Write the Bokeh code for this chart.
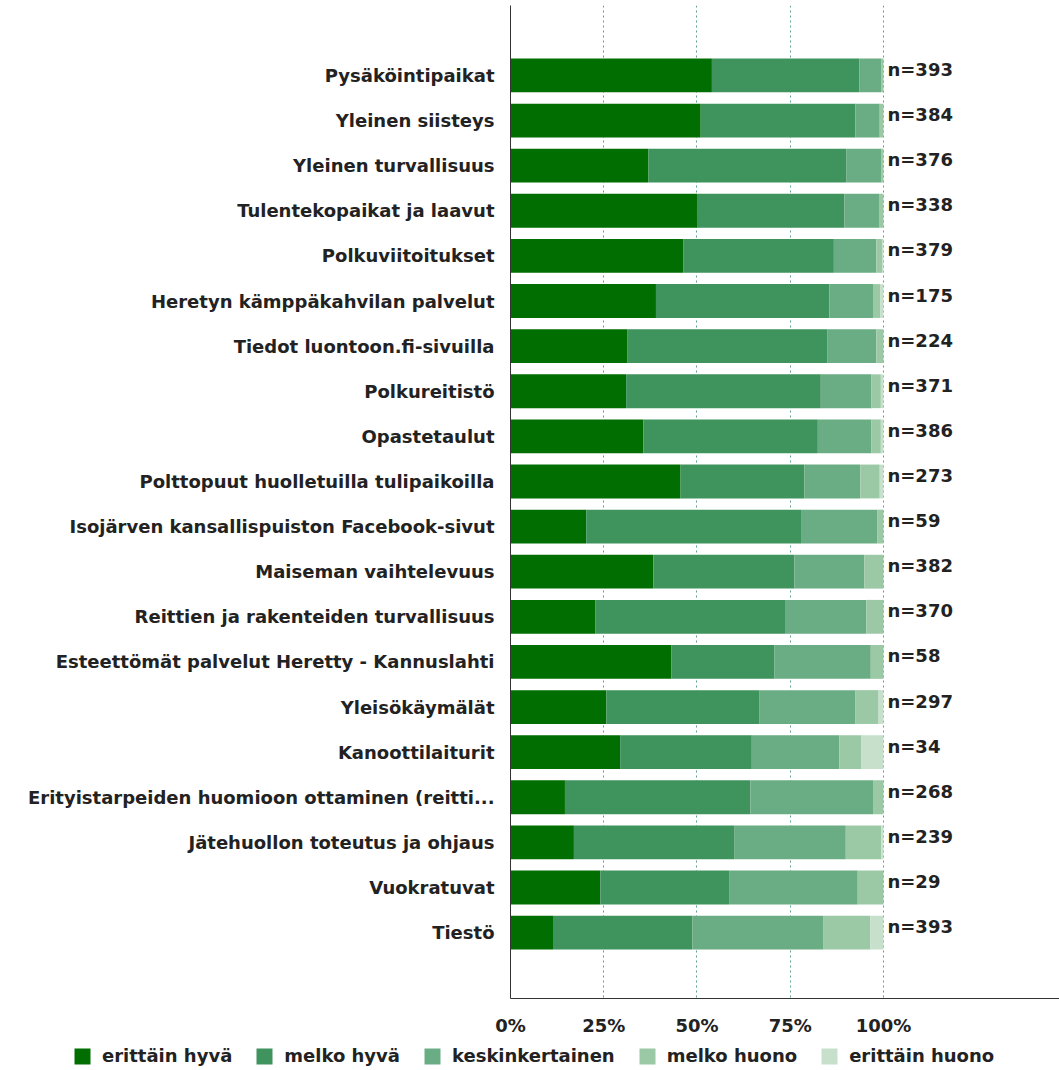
from bokeh.plotting import figure
from bokeh.layouts import column, row
from bokeh.models import ColumnDataSource, Range1d, FixedTicker, Legend, LegendItem, CustomJSTickFormatter
from bokeh.core.properties import value
from bokeh.embed import file_html
from bokeh.resources import INLINE

categories = [
    "Pysäköintipaikat", "Yleinen siisteys", "Yleinen turvallisuus",
    "Tulentekopaikat ja laavut", "Polkuviitoitukset",
    "Heretyn kämppäkahvilan palvelut", "Tiedot luontoon.fi-sivuilla",
    "Polkureitistö", "Opastetaulut", "Polttopuut huolletuilla tulipaikoilla",
    "Isojärven kansallispuiston Facebook-sivut", "Maiseman vaihtelevuus",
    "Reittien ja rakenteiden turvallisuus",
    "Esteettömät palvelut Heretty - Kannuslahti", "Yleisökäymälät",
    "Kanoottilaiturit", "Erityistarpeiden huomioon ottaminen (reitti...",
    "Jätehuollon toteutus ja ohjaus", "Vuokratuvat", "Tiestö",
]
n_values = [393, 384, 376, 338, 379, 175, 224, 371, 386, 273,
            59, 382, 370, 58, 297, 34, 268, 239, 29, 393]

erittain_hyva = [54.0, 51.0, 37.0, 50.0, 46.3, 39.0, 31.4, 31.0, 35.6, 45.6,
                 20.3, 38.3, 22.7, 43.1, 25.7, 29.4, 14.6, 17.0, 24.1, 11.4]
melko_hyva = [39.5, 41.5, 53.0, 39.5, 40.4, 46.5, 53.5, 52.2, 46.8, 33.2,
              57.6, 37.8, 51.1, 27.6, 41.1, 35.3, 49.7, 43.1, 34.5, 37.4]
keskinkertainen = [6.0, 6.5, 9.5, 9.3, 11.4, 11.7, 13.2, 13.6, 14.4, 15.0,
                   20.4, 18.8, 21.6, 25.9, 25.6, 23.5, 32.9, 29.8, 34.5, 35.0]
melko_huono = [0.5, 1.0, 0.5, 1.2, 1.5, 2.0, 1.9, 2.5, 2.5, 5.2,
               1.7, 5.1, 4.6, 3.4, 6.3, 5.9, 2.8, 9.5, 6.9, 12.7]
erittain_huono = [0.0, 0.0, 0.0, 0.0, 0.4, 0.8, 0.0, 0.7, 0.7, 1.0,
                  0.0, 0.0, 0.0, 0.0, 1.3, 5.9, 0.0, 0.6, 0.0, 3.5]

series_names = ["erittäin hyvä", "melko hyvä", "keskinkertainen", "melko huono", "erittäin huono"]
series_keys = ["eh", "mh", "kk", "mhu", "ehu"]
colors = ["#006e00", "#3f935c", "#6aad84", "#9cc9a5", "#c6e0cb"]
x_ticks = [0, 25, 50, 75, 100]

ypos = list(range(len(categories)))
source = ColumnDataSource(data=dict(
    y=ypos, cat=categories,
    eh=erittain_hyva, mh=melko_hyva, kk=keskinkertainen, mhu=melko_huono, ehu=erittain_huono,
    n=["n=%d" % v for v in n_values],
    xn=[100] * len(categories),
))

FONT = "DejaVu Sans"
TXT = "#222222"

p = figure(width=1059, height=1040, output_backend="svg", toolbar_location=None,
           x_range=Range1d(0, 147.2), y_range=Range1d(20.46, -1.55),
           min_border_left=510, min_border_right=0, min_border_top=5, min_border_bottom=42)
p.outline_line_color = None
p.background_fill_color = "white"

renderers = p.hbar_stack(series_keys, y="y", height=0.75, color=colors, line_color=None, source=source)

p.text(x="xn", y="y", text="n", source=source, x_offset=4, y_offset=-6,
       text_font=value(FONT), text_font_size="18px", text_font_style="bold",
       text_color=TXT, text_align="left", text_baseline="middle")

# y axis
p.yaxis.ticker = FixedTicker(ticks=ypos)
p.yaxis.major_label_overrides = {i: c for i, c in enumerate(categories)}
p.yaxis.major_label_text_font = FONT
p.yaxis.major_label_text_font_size = "18px"
p.yaxis.major_label_text_font_style = "bold"
p.yaxis.major_label_text_color = TXT
p.yaxis.major_label_standoff = 10
p.yaxis.major_tick_line_color = None
p.yaxis.minor_tick_line_color = None
p.yaxis.axis_line_color = "#333333"

# x axis
p.xaxis.ticker = FixedTicker(ticks=x_ticks)
p.xaxis.formatter = CustomJSTickFormatter(code="return tick + '%';")
p.xaxis.major_label_text_font = FONT
p.xaxis.major_label_text_font_size = "18px"
p.xaxis.major_label_text_font_style = "bold"
p.xaxis.major_label_text_color = TXT
p.xaxis.major_label_standoff = 10
p.xaxis.major_tick_line_color = None
p.xaxis.minor_tick_line_color = None
p.xaxis.axis_line_color = "#333333"

p.ygrid.grid_line_color = None
p.xgrid.ticker = FixedTicker(ticks=[25, 50, 75, 100])
p.xgrid.grid_line_color = "#5f9f90"
p.xgrid.grid_line_dash = "2 3"
p.xgrid.grid_line_width = 1

# legend strip below the chart
lg = figure(width=1059, height=28, output_backend="svg", toolbar_location=None,
            x_range=Range1d(0, 1), y_range=Range1d(0, 1),
            min_border_left=0, min_border_right=0, min_border_top=0, min_border_bottom=0)
lg.outline_line_color = None
lg.axis.visible = False
lg.grid.visible = False
dummy = [lg.hbar(y=[5], right=[5], left=[5], height=0.1, color=c, line_color=None) for c in colors]

legend = Legend(items=[LegendItem(label=series_names[i], renderers=[dummy[i]]) for i in range(5)],
                orientation="horizontal", location=(72, 2))
legend.label_text_font = FONT
legend.label_text_font_size = "18px"
legend.label_text_font_style = "bold"
legend.label_text_color = TXT
legend.glyph_width = 20
legend.glyph_height = 20
legend.label_standoff = 10
legend.spacing = 22
legend.padding = 2
legend.margin = 0
legend.border_line_color = None
legend.background_fill_alpha = 0
lg.add_layout(legend, "center")

layout = column(p, row(lg, spacing=0), spacing=0)
open("out.html", "w").write(file_html(layout, INLINE))
